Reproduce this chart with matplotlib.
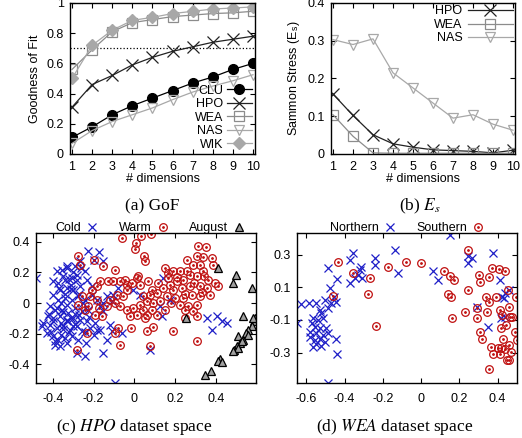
import numpy as np
import matplotlib
matplotlib.use("Agg")
import matplotlib.pyplot as plt

plt.rcParams['font.family'] = ['Liberation Sans', 'DejaVu Sans']
plt.rcParams['mathtext.fontset'] = 'stix'

# ---- data: (a) goodness of fit ----
dims = np.arange(1, 11)
gof_clu = [0.11, 0.18, 0.26, 0.32, 0.37, 0.42, 0.47, 0.51, 0.56, 0.60]
gof_hpo = [0.31, 0.46, 0.52, 0.59, 0.64, 0.68, 0.71, 0.74, 0.76, 0.78]
gof_wea = [0.56, 0.69, 0.81, 0.87, 0.89, 0.91, 0.92, 0.93, 0.935, 0.945]
gof_nas = [0.07, 0.155, 0.215, 0.26, 0.305, 0.36, 0.41, 0.45, 0.485, 0.525]
gof_wik = [0.50, 0.72, 0.82, 0.885, 0.905, 0.93, 0.945, 0.96, 0.967, 0.974]
gof_threshold = 0.7

# ---- data: (b) sammon stress ----
es_hpo = [0.159, 0.102, 0.051, 0.027, 0.018, 0.011, 0.009, 0.007, 0.003, 0.010]
es_wea = [0.104, 0.047, 0.003, 0.002, 0.002, 0.002, 0.002, 0.002, 0.002, 0.002]
es_nas = [0.303, 0.290, 0.305, 0.215, 0.175, 0.135, 0.095, 0.104, 0.079, 0.063]

# ---- data: (c) HPO dataset space ----
cold_x = [-0.482, -0.225, -0.172, -0.152, -0.196, -0.266, -0.291, -0.332, -0.356, -0.381,
          -0.397, -0.373, -0.34, -0.307, -0.283, -0.242, -0.234, -0.266, -0.299, -0.332,
          -0.364, -0.397, -0.373, -0.34, -0.307, -0.275, -0.242, -0.209, -0.185, -0.413,
          -0.389, -0.356, -0.324, -0.291, -0.258, -0.225, -0.422, -0.397, -0.364, -0.332,
          -0.299, -0.266, -0.234, -0.446, -0.454, -0.413, -0.381, -0.348, -0.315, -0.283,
          -0.258, -0.217, -0.185, -0.43, -0.397, -0.373, -0.34, -0.307, -0.275, -0.389,
          -0.364, -0.332, -0.283, -0.242, -0.237, -0.193, -0.168, -0.152, -0.152, -0.136,
          -0.111, -0.103, -0.078, -0.119, -0.111, -0.136, -0.152, -0.062, -0.095, 0.077,
          0.028, -0.005, 0.126, 0.142, 0.175, 0.134, 0.355, 0.379, 0.404, 0.428, 0.453,
          -0.35, -0.31, -0.27, -0.33, -0.29, -0.36, -0.32, -0.25, -0.30, -0.34,
          -0.31, -0.33, -0.35, -0.29, -0.27, -0.38, -0.40, -0.36, -0.31, -0.28,
          -0.22, -0.20, -0.24, -0.35, -0.39, -0.42, -0.37, -0.33, -0.26, -0.21,
          -0.17, -0.32, -0.30, -0.36, -0.41]
cold_y = [0.163, 0.338, 0.331, 0.272, 0.279, 0.272, 0.24, 0.229, 0.218, 0.207,
          0.142, 0.131, 0.153, 0.163, 0.185, 0.207, 0.153, 0.109, 0.087, 0.098,
          0.087, 0.054, 0.022, 0.033, 0.022, 0.044, 0.022, 0.054, 0.022, -0.022,
          -0.044, -0.044, -0.065, -0.033, -0.054, -0.044, -0.087, -0.098, -0.087, -0.109,
          -0.098, -0.109, -0.12, -0.131, -0.153, -0.142, -0.163, -0.153, -0.174, -0.153,
          -0.185, -0.163, -0.174, -0.196, -0.218, -0.24, -0.229, -0.218, -0.24, -0.272,
          -0.283, -0.262, -0.327, -0.349, -0.262, -0.131, -0.174, -0.054, 0.0, 0.044,
          0.011, 0.054, 0.098, -0.142, -0.185, -0.24, -0.327, -0.196, -0.523, -0.305,
          0.054, 0.087, -0.022, 0.163, 0.022, -0.087, -0.098, -0.174, -0.087, -0.12, -0.131,
          0.18, 0.12, 0.06, -0.01, -0.07, -0.13, -0.19, 0.0, 0.2, 0.06,
          -0.10, -0.12, -0.06, -0.14, -0.08, -0.03, -0.12, 0.00, 0.09, 0.15,
          -0.09, -0.21, -0.19, -0.17, -0.25, -0.07, 0.10, 0.24, 0.23, 0.11,
          -0.02, 0.16, -0.15, -0.21, -0.19]
warm_x = [-0.275, -0.266, -0.196, -0.152, -0.095, -0.062, 0.008, 0.003, 0.031, 0.08,
          0.049, 0.052, 0.016, 0.015, -0.168, -0.185, -0.209, -0.127, -0.103, -0.07,
          -0.046, -0.038, -0.013, 0.028, 0.069, 0.085, 0.118, 0.15, 0.167, 0.191,
          0.224, 0.257, 0.314, 0.351, 0.306, 0.338, 0.379, 0.289, 0.322, 0.387,
          0.338, 0.273, 0.306, 0.363, 0.395, 0.412, 0.24, 0.208, 0.175, 0.142,
          0.191, 0.232, 0.273, 0.322, 0.355, 0.371, 0.322, 0.281, 0.24, 0.199,
          0.158, 0.224, 0.265, 0.306, 0.248, 0.289, 0.306, 0.109, 0.077, 0.044,
          0.06, 0.093, 0.126, 0.028, -0.005, 0.044, 0.085, 0.109, 0.06, 0.011,
          -0.021, -0.038, -0.07, -0.095, -0.119, -0.136, -0.087, -0.054, -0.038, -0.217,
          -0.225, -0.275, -0.242, -0.172, -0.185, -0.258, -0.193, -0.16, -0.23, -0.283,
          -0.078, -0.095, -0.07, -0.018, 0.052, 0.06, 0.093, 0.077, 0.188, 0.309,
          0.248, 0.15, 0.167, 0.25, 0.29, 0.34, 0.21, 0.18, 0.26, 0.33]
warm_y = [0.305, 0.251, 0.283, 0.24, 0.218, 0.425, 0.392, 0.353, 0.436, 0.451,
          0.305, 0.272, 0.179, 0.163, 0.142, 0.109, 0.087, 0.142, 0.142, 0.142,
          0.153, 0.12, 0.131, 0.12, 0.142, 0.087, 0.131, 0.229, 0.196, 0.207,
          0.207, 0.283, 0.371, 0.364, 0.305, 0.299, 0.294, 0.251, 0.251, 0.251,
          0.207, 0.185, 0.174, 0.153, 0.131, 0.109, 0.153, 0.142, 0.12, 0.098,
          0.087, 0.098, 0.109, 0.109, 0.098, 0.054, 0.044, 0.054, 0.033, 0.033,
          0.044, -0.011, -0.022, -0.011, -0.044, -0.054, -0.087, 0.065, 0.054, 0.044,
          0.011, 0.0, 0.011, -0.011, -0.033, -0.044, -0.044, -0.076, -0.076, -0.076,
          -0.087, -0.044, -0.022, 0.0, 0.022, -0.022, 0.054, 0.044, 0.087, 0.044,
          -0.022, -0.011, -0.044, -0.033, 0.022, 0.044, -0.076, -0.087, -0.196, -0.305,
          -0.163, -0.196, -0.272, -0.163, -0.098, -0.185, -0.157, -0.283, -0.185, -0.251,
          -0.098, -0.044, 0.163, 0.06, 0.13, 0.18, 0.17, 0.0, 0.21, 0.07]
aug_x = [0.253, 0.412, 0.498, 0.485, 0.575, 0.531, 0.592, 0.587, 0.575, 0.559,
         0.547, 0.559, 0.51, 0.531, 0.518, 0.526, 0.502, 0.49, 0.51, 0.482,
         0.42, 0.412, 0.428, 0.376, 0.346, 0.583]
aug_y = [-0.098, 0.229, 0.185, 0.131, 0.098, -0.087, -0.098, -0.12, -0.153, -0.174,
         -0.196, -0.207, -0.218, -0.24, -0.262, -0.251, -0.283, -0.305, -0.294, -0.316,
         -0.366, -0.377, -0.388, -0.447, -0.469, -0.098]

# ---- data: (d) WEA dataset space ----
north_x = [-0.649, -0.626, -0.486, -0.442, -0.446, -0.486, -0.439, -0.474, -0.457, -0.503,
           -0.469, -0.446, -0.486, -0.53, -0.547, -0.586, -0.526, -0.565, -0.538, -0.512,
           -0.573, -0.556, -0.53, -0.495, -0.582, -0.547, -0.512, -0.486, -0.582, -0.556,
           -0.53, -0.503, -0.547, -0.521, -0.565, -0.372, -0.348, -0.33, -0.311, -0.32,
           -0.315, -0.355, -0.372, -0.241, -0.241, -0.136, -0.119, 0.152, 0.065, 0.087,
           0.248, 0.248, 0.266, 0.374, 0.411, 0.292, 0.35, 0.423, 0.44, 0.458,
           0.418, 0.44, 0.432]
north_y = [-0.121, -0.002, -0.487, -0.306, -0.214, 0.218, 0.15, 0.095, 0.043, 0.023,
           0.002, 0.012, -0.029, -0.039, 0.002, 0.002, -0.06, -0.09, -0.101, -0.09,
           -0.121, -0.142, -0.152, -0.152, -0.173, -0.183, -0.193, -0.179, -0.203, -0.224,
           -0.214, -0.234, -0.245, -0.261, -0.265, 0.125, 0.156, 0.177, 0.156, 0.208,
           0.228, 0.31, 0.269, 0.279, 0.238, 0.331, 0.187, 0.423, 0.203, 0.146,
           0.29, 0.249, 0.279, 0.31, 0.146, -0.018, -0.142, 0.043, 0.064, 0.084,
           -0.09, -0.08, 0.033]
south_x = [-0.434, -0.358, -0.267, -0.276, -0.46, -0.236, -0.171, -0.079, 0.0, 0.122,
           0.149, 0.17, 0.143, 0.156, 0.161, 0.231, 0.248, 0.248, 0.304, 0.306,
           0.292, 0.294, 0.308, 0.318, 0.353, 0.339, 0.358, 0.344, 0.365, 0.353,
           0.372, 0.407, 0.437, 0.39, 0.411, 0.425, 0.418, 0.428, 0.418, 0.414,
           0.374, 0.453, 0.458, 0.446, 0.463, 0.458, 0.47, 0.449, 0.458, 0.474,
           0.493, 0.498, 0.502, 0.44, 0.402]
south_y = [0.255, 0.191, 0.16, 0.06, 0.047, -0.134, 0.224, 0.255, 0.249, 0.203,
           0.171, 0.146, 0.06, 0.043, -0.09, -0.049, 0.331, 0.084, 0.177, 0.136,
           -0.029, -0.09, -0.173, -0.214, 0.166, 0.043, 0.012, -0.049, -0.265, -0.399,
           0.218, 0.212, 0.203, 0.043, -0.039, -0.07, -0.152, -0.214, -0.275, -0.306,
           -0.306, 0.084, -0.018, -0.131, -0.084, -0.255, -0.296, -0.347, -0.347, -0.08,
           -0.173, 0.043, -0.224, -0.279, -0.275]

W, H = 522, 438
fig = plt.figure(figsize=(W / 100, H / 100), dpi=100)

def box(l, t, r, b):
    return [l / W, 1 - b / H, (r - l) / W, (b - t) / H]

ax_a = fig.add_axes(box(70, 3, 255, 154))
ax_b = fig.add_axes(box(331, 3, 515, 154))
ax_c = fig.add_axes(box(36, 233, 256, 383))
ax_d = fig.add_axes(box(297, 233, 517, 383))

fs = 9
for ax in (ax_a, ax_b, ax_c, ax_d):
    ax.tick_params(direction='in', top=True, right=True, length=3.5, width=0.8,
                   labelsize=fs)
    ax.tick_params(axis='y', pad=4.5)
    ax.tick_params(axis='x', pad=5)
    for s in ax.spines.values():
        s.set_linewidth(1.0)
for ax in (ax_c, ax_d):
    ax.tick_params(axis='x', pad=7)

lw = 0.9
# (a)
ax_a.axhline(gof_threshold, color='black', ls=':', lw=0.9)
ax_a.plot(dims, gof_clu, color='black', lw=lw, marker='o', ms=7, mfc='black', mec='black', label='CLU')
ax_a.plot(dims, gof_hpo, color='#222222', lw=lw, marker='x', ms=8, mew=0.9, label='HPO')
ax_a.plot(dims, gof_wea, color='#8c8c8c', lw=lw, marker='s', ms=7.5, mfc='none', mew=0.9, mec='#8c8c8c', label='WEA')
ax_a.plot(dims, gof_nas, color='#a8a8a8', lw=lw, marker='v', ms=7.5, mfc='none', mew=0.9, mec='#a8a8a8', label='NAS')
ax_a.plot(dims, gof_wik, color='#a8a8a8', lw=lw, marker='D', ms=6, mfc='#a8a8a8', mec='#a8a8a8', label='WIK')
ax_a.set_xlim(0.9, 10.1)
ax_a.set_ylim(0, 1)
ax_a.set_xticks(dims)
ax_a.set_yticks([0, 0.2, 0.4, 0.6, 0.8, 1])
ax_a.set_yticklabels(['0', '0.2', '0.4', '0.6', '0.8', '1'])
ax_a.set_xlabel('# dimensions', fontsize=fs, labelpad=0)
ax_a.set_ylabel('Goodness of Fit', fontsize=fs, labelpad=4)
ax_a.legend(loc='lower right', bbox_to_anchor=(1.0, 0.0), frameon=False, markerfirst=False,
            fontsize=fs, handlelength=2.0, handletextpad=0.3, labelspacing=0.12,
            borderaxespad=0.1, borderpad=0.15)

# (b)
ax_b.plot(dims, es_hpo, color='#222222', lw=lw, marker='x', ms=8, mew=0.9, label='HPO')
ax_b.plot(dims, es_wea, color='#8c8c8c', lw=lw, marker='s', ms=7.5, mfc='none', mew=0.9, mec='#8c8c8c', label='WEA')
ax_b.plot(dims, es_nas, color='#a8a8a8', lw=lw, marker='v', ms=7.5, mfc='none', mew=0.9, mec='#a8a8a8', label='NAS')
ax_b.set_xlim(0.9, 10.1)
ax_b.set_ylim(0, 0.4)
ax_b.set_xticks(dims)
ax_b.set_yticks([0, 0.1, 0.2, 0.3, 0.4])
ax_b.set_yticklabels(['0', '0.1', '0.2', '0.3', '0.4'])
ax_b.set_xlabel('# dimensions', fontsize=fs, labelpad=0)
ax_b.set_ylabel(r'Sammon Stress (E$_\mathregular{s}$)', fontsize=fs, labelpad=4)
ax_b.legend(loc='upper right', frameon=False, markerfirst=False, fontsize=fs,
            handlelength=3.6, handletextpad=0.4, labelspacing=0.12,
            borderaxespad=0.1, borderpad=0.1)

# (c)
blue = '#1f1fc8'
red = '#c01010'
h_cold, = ax_c.plot(cold_x, cold_y, ls='none', marker='x', ms=5.5, mew=0.9, color=blue)
h_warm, = ax_c.plot(warm_x, warm_y, ls='none', marker='o', ms=5.5, mfc='none', mew=0.9, mec=red)
h_warm_dot, = ax_c.plot(warm_x, warm_y, ls='none', marker='o', ms=1.0, color=red)
h_aug, = ax_c.plot(aug_x, aug_y, ls='none', marker='^', ms=5.5, mfc='#a0a0a0', mec='black', mew=0.9)
ax_c.set_xlim(-0.482, 0.596)
ax_c.set_ylim(-0.523, 0.458)
ax_c.set_xticks([-0.4, -0.2, 0, 0.2, 0.4])
ax_c.set_xticklabels(['-0.4', '-0.2', '0', '0.2', '0.4'])
ax_c.set_yticks([-0.4, -0.2, 0, 0.2, 0.4])
ax_c.set_yticklabels(['-0.4', '-0.2', '0', '0.2', '0.4'])
ax_c.legend([h_cold, (h_warm, h_warm_dot), h_aug], ['Cold', 'Warm', 'August'],
            loc='lower center', bbox_to_anchor=(0.52, 0.985), ncol=3, frameon=False,
            markerfirst=False, fontsize=fs, handlelength=1.0, handletextpad=0.4,
            columnspacing=1.6, borderaxespad=0.0, borderpad=0.1)

# (d)
h_north, = ax_d.plot(north_x, north_y, ls='none', marker='x', ms=5.5, mew=0.9, color=blue)
h_south, = ax_d.plot(south_x, south_y, ls='none', marker='o', ms=5.5, mfc='none', mew=0.9, mec=red)
h_south_dot, = ax_d.plot(south_x, south_y, ls='none', marker='o', ms=1.0, color=red)
ax_d.set_xlim(-0.649, 0.502)
ax_d.set_ylim(-0.487, 0.434)
ax_d.set_xticks([-0.6, -0.4, -0.2, 0, 0.2, 0.4])
ax_d.set_xticklabels(['-0.6', '-0.4', '-0.2', '0', '0.2', '0.4'])
ax_d.set_yticks([-0.3, -0.1, 0.1, 0.3])
ax_d.set_yticklabels(['-0.3', '-0.1', '0.1', '0.3'])
ax_d.legend([h_north, (h_south, h_south_dot)], ['Northern', 'Southern'],
            loc='lower center', bbox_to_anchor=(0.5, 0.985), ncol=2, frameon=False,
            markerfirst=False, fontsize=fs, handlelength=1.0, handletextpad=0.4,
            columnspacing=1.6, borderaxespad=0.0, borderpad=0.1)

# captions
cap = dict(ha='center', va='center', fontsize=12.5, family=['Liberation Serif', 'DejaVu Serif'])
fig.text(152 / W, 1 - 206 / H, '(a) GoF', **cap)
fig.text(420 / W, 1 - 206 / H, r'(b) $E_s$', **cap)
fig.text(134 / W, 1 - 427 / H, r'(c) $\mathit{HPO}$ dataset space', **cap)
fig.text(395 / W, 1 - 427 / H, r'(d) $\mathit{WEA}$ dataset space', **cap)

fig.savefig('out.png', dpi=100)
